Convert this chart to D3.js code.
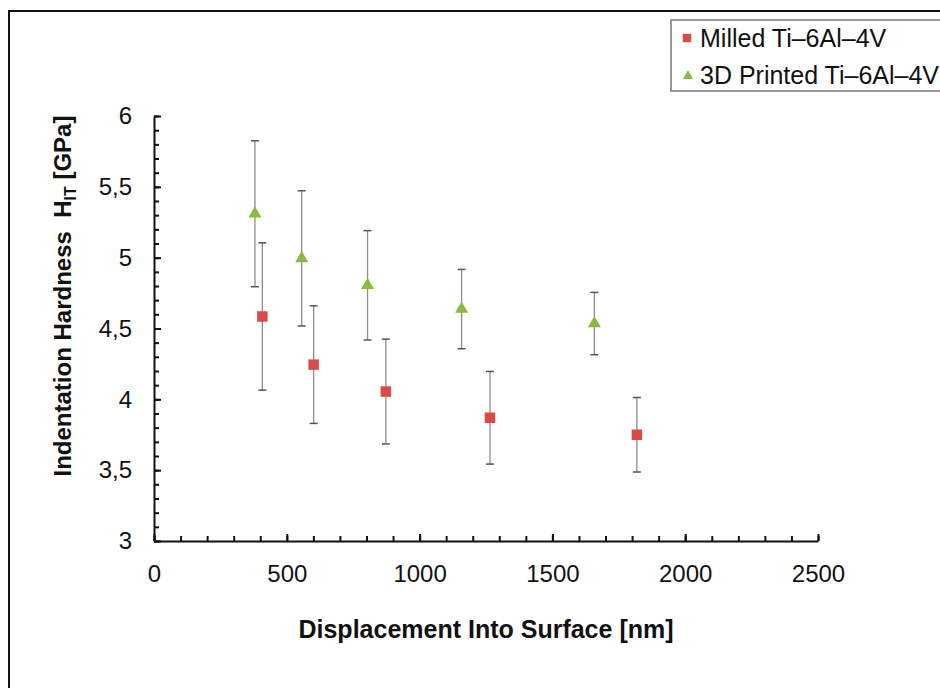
<!DOCTYPE html>
<html lang="en">

<head>
    <meta charset="UTF-8">
    <title>Indentation Hardness</title>
    <script src="https://d3js.org/d3.v7.min.js"></script>
    <style>
        body {
            margin: 0;
            background: #fff;
        }

        text {
            font-family: "Liberation Sans", Arial, sans-serif;
            fill: #111;
        }

        .axis path,
        .axis line {
            stroke: #111;
        }

        .errbar {
            stroke: #8c8c8c;
            stroke-width: 1.3px;
        }

        .errcap {
            stroke: #555;
            stroke-width: 1.5px;
        }
    </style>
</head>

<body>
    <svg id="chart"></svg>
    <script>
        // series (nm, GPa, +/- GPa)
        const milledX = [408, 601, 873, 1265, 1818];
        const milledY = [4.585, 4.245, 4.055, 3.87, 3.75];
        const milledErr = [0.52, 0.415, 0.37, 0.327, 0.263];

        const printedX = [380, 556, 804, 1158, 1658];
        const printedY = [5.31, 4.995, 4.805, 4.637, 4.535];
        const printedErr = [0.515, 0.477, 0.386, 0.28, 0.22];

        const seriesNames = ["Milled Ti\u20136Al\u20134V", "3D Printed Ti\u20136Al\u20134V"];
        const xTicks = [0, 500, 1000, 1500, 2000, 2500];
        const yTicks = [3, 3.5, 4, 4.5, 5, 5.5, 6];

        const width = 940;
        const height = 688;
        const margin = { top: 116, right: 122, bottom: 147, left: 154 };

        const svg = d3.select("#chart")
            .attr("width", width)
            .attr("height", height);

        // outer frame (top and left edges visible)
        svg.append("path")
            .attr("d", `M9,${height}V11H${width}`)
            .attr("fill", "none")
            .attr("stroke", "#111")
            .attr("stroke-width", 2);

        const x = d3.scaleLinear()
            .domain([0, 2500])
            .range([margin.left, width - margin.right]);

        const y = d3.scaleLinear()
            .domain([3, 6])
            .range([height - margin.bottom, margin.top]);

        // minor ticks
        const xMinor = d3.range(0, 2501, 100);
        const yMinor = d3.range(30, 61, 1).map(d => d / 10);

        const g = svg.append("g");

        g.append("g")
            .attr("class", "axis")
            .attr("transform", `translate(0,${y(3)})`)
            .call(d3.axisTop(x).tickValues(xMinor).tickSize(5).tickFormat(""))
            .call(a => a.select(".domain").remove())
            .selectAll("line").attr("stroke-width", 2);

        g.append("g")
            .attr("class", "axis")
            .attr("transform", `translate(${x(0)},0)`)
            .call(d3.axisRight(y).tickValues(yMinor).tickSize(5).tickFormat(""))
            .call(a => a.select(".domain").remove())
            .selectAll("line").attr("stroke-width", 2);

        // major ticks + labels
        const xAxis = g.append("g")
            .attr("class", "axis")
            .attr("transform", `translate(0,${y(3)})`)
            .call(d3.axisTop(x).tickValues(xTicks).tickSizeInner(7).tickSizeOuter(0)
                .tickFormat(d3.format("d")));
        xAxis.select(".domain").attr("stroke-width", 2);
        xAxis.selectAll("line").attr("stroke-width", 2);
        xAxis.selectAll("text")
            .attr("y", 41)
            .style("font-size", "24px");

        const yAxis = g.append("g")
            .attr("class", "axis")
            .attr("transform", `translate(${x(0)},0)`)
            .call(d3.axisRight(y).tickValues(yTicks).tickSizeInner(7).tickSizeOuter(0)
                .tickFormat(d => String(d).replace(".", ",")));
        yAxis.select(".domain").attr("stroke-width", 2);
        yAxis.selectAll("line").attr("stroke-width", 2);
        yAxis.selectAll("text")
            .attr("x", -22)
            .attr("text-anchor", "end")
            .style("font-size", "24px");

        // axis titles
        svg.append("text")
            .attr("x", 486)
            .attr("y", 638)
            .attr("text-anchor", "middle")
            .style("font-size", "25px")
            .style("font-weight", "bold")
            .text("Displacement Into Surface [nm]");

        const yTitle = svg.append("text")
            .attr("transform", "translate(71,296) rotate(-90)")
            .attr("text-anchor", "middle")
            .style("font-size", "24px")
            .style("font-weight", "bold")
            .style("white-space", "pre");
        yTitle.append("tspan").text("Indentation Hardness  H");
        yTitle.append("tspan").attr("dy", 5).style("font-size", "16px").text("IT");
        yTitle.append("tspan").attr("dy", -5).text(" [GPa]");

        // error bars
        function drawErrors(xs, ys, es) {
            const data = xs.map((d, i) => ({ x: d, y: ys[i], e: es[i] }));
            const eg = g.append("g");
            eg.selectAll(".errbar")
                .data(data)
                .enter().append("line")
                .attr("class", "errbar")
                .attr("x1", d => x(d.x)).attr("x2", d => x(d.x))
                .attr("y1", d => y(d.y + d.e)).attr("y2", d => y(d.y - d.e));
            eg.selectAll(".captop")
                .data(data)
                .enter().append("line")
                .attr("class", "errcap")
                .attr("x1", d => x(d.x) - 4).attr("x2", d => x(d.x) + 4)
                .attr("y1", d => y(d.y + d.e)).attr("y2", d => y(d.y + d.e));
            eg.selectAll(".capbot")
                .data(data)
                .enter().append("line")
                .attr("class", "errcap")
                .attr("x1", d => x(d.x) - 4).attr("x2", d => x(d.x) + 4)
                .attr("y1", d => y(d.y - d.e)).attr("y2", d => y(d.y - d.e));
        }
        drawErrors(printedX, printedY, printedErr);
        drawErrors(milledX, milledY, milledErr);

        const red = "#dc4a45";
        const green = "#86bb3d";
        const square = d3.symbol().type(d3.symbolSquare).size(110);
        const triangle = d3.symbol().type(d3.symbolTriangle).size(74);

        g.selectAll(".tri")
            .data(printedX.map((d, i) => [d, printedY[i]]))
            .enter().append("path")
            .attr("class", "tri")
            .attr("d", triangle)
            .attr("transform", d => `translate(${x(d[0])},${y(d[1])})`)
            .attr("fill", green);

        g.selectAll(".sq")
            .data(milledX.map((d, i) => [d, milledY[i]]))
            .enter().append("path")
            .attr("class", "sq")
            .attr("d", square)
            .attr("transform", d => `translate(${x(d[0])},${y(d[1])})`)
            .attr("fill", red);

        // legend
        const legend = svg.append("g").attr("transform", "translate(671,20)");
        legend.append("rect")
            .attr("width", 300)
            .attr("height", 71)
            .attr("fill", "#fff")
            .attr("stroke", "#777")
            .attr("stroke-width", 1.5);

        const items = legend.selectAll(".item")
            .data(seriesNames)
            .enter().append("g")
            .attr("transform", (d, i) => `translate(0,${18 + i * 37})`);

        items.append("path")
            .attr("d", (d, i) => i === 0
                ? d3.symbol().type(d3.symbolSquare).size(72)()
                : d3.symbol().type(d3.symbolTriangle).size(44)())
            .attr("transform", (d, i) => `translate(${i === 0 ? 16 : 17},${i === 0 ? 0 : 1})`)
            .attr("fill", (d, i) => i === 0 ? red : green);

        items.append("text")
            .attr("x", 29)
            .attr("y", 8.5)
            .style("font-size", "25px")
            .text(d => d);
    </script>
</body>

</html>
